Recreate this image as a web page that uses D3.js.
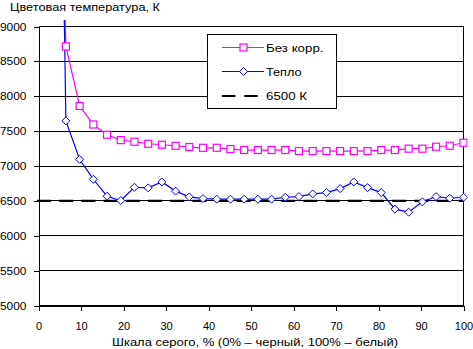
<!DOCTYPE html>
<html><head><meta charset="utf-8">
<script src="https://cdnjs.cloudflare.com/ajax/libs/d3/7.8.5/d3.min.js"></script>
<style>body{margin:0;background:#fff}svg{display:block}text{font-family:"Liberation Sans",Arial,sans-serif;font-size:11px;fill:#000}</style>
</head><body><svg id="c" width="473" height="349"></svg>
<script>
const grayLevels = [3.23, 6.45, 9.68, 12.9, 16.13, 19.35, 22.58, 25.81, 29.03, 32.26, 35.48, 38.71, 41.94, 45.16, 48.39, 51.61, 54.84, 58.06, 61.29, 64.52, 67.74, 70.97, 74.19, 77.42, 80.65, 83.87, 87.1, 90.32, 93.55, 96.77, 100];
const noCorr = [16000, 8714, 7861, 7595, 7448, 7371, 7348, 7319, 7305, 7290, 7272, 7261, 7261, 7243, 7229, 7229, 7229, 7229, 7214, 7214, 7214, 7214, 7214, 7214, 7229, 7229, 7248, 7248, 7276, 7290, 7333];
const warm = [20000, 7647, 7095, 6810, 6567, 6505, 6695, 6686, 6771, 6640, 6557, 6533, 6524, 6524, 6524, 6524, 6524, 6552, 6562, 6600, 6619, 6676, 6771, 6690, 6619, 6381, 6338, 6486, 6562, 6538, 6552];
const refTemp = 6500;
const xTicks = [0, 10, 20, 30, 40, 50, 60, 70, 80, 90, 100];
const yTicks = [5000, 5500, 6000, 6500, 7000, 7500, 8000, 8500, 9000];
const seriesNames = ["Без корр.", "Тепло", "6500 К"];
const yTitle = "Цветовая температура, К";
const xTitle = "Шкала серого, % (0% – черный, 100% – белый)";

const svg = d3.select("#c");
const x = d3.scaleLinear().domain([0, 100]).range([38.5, 463.5]);
const y = d3.scaleLinear().domain([5000, 9000]).range([305.5, 26.5]);

// gridlines
svg.append("g").selectAll("line").data(yTicks).join("line")
  .attr("x1", x(0)).attr("x2", x(100)).attr("y1", d => y(d)).attr("y2", d => y(d))
  .attr("stroke", "#000").attr("stroke-width", 1).attr("shape-rendering", "crispEdges");
// right border
svg.append("line").attr("x1", x(100)).attr("x2", x(100)).attr("y1", y(9000)).attr("y2", y(5000))
  .attr("stroke", "#000").attr("shape-rendering", "crispEdges");

// axes
const yAxis = d3.axisLeft(y).tickValues(yTicks).tickSize(5).tickPadding(7).tickFormat(d3.format("d"));
const gy = svg.append("g").attr("transform", `translate(${x(0)},0)`).call(yAxis);
const xAxis = d3.axisBottom(x).tickValues(xTicks).tickSize(5).tickPadding(11.5).tickFormat(d3.format("d"));
const gx = svg.append("g").attr("transform", `translate(0,${y(5000)})`).call(xAxis);
[gx, gy].forEach(g => {
  g.select(".domain").attr("stroke", "#000").attr("shape-rendering", "crispEdges");
  g.selectAll(".tick line").attr("stroke", "#000").attr("shape-rendering", "crispEdges");
  g.selectAll("text").attr("font-family", "Liberation Sans, Arial, sans-serif").attr("font-size", 11).attr("fill", "#000");
});
gy.selectAll("text").attr("textLength", 26.5).attr("lengthAdjust", "spacingAndGlyphs");
gy.select(".domain").attr("d", `M0.5,${y(9000)}V${y(5000)}`);

// clip
svg.append("clipPath").attr("id", "pc").append("rect")
  .attr("x", x(0) - 2).attr("y", 20).attr("width", x(100) - x(0) + 6).attr("height", y(5000) - 20);
const plot = svg.append("g").attr("clip-path", "url(#pc)");

// 6500 dashed
plot.append("line").attr("x1", x(0) - 1.5).attr("x2", x(100)).attr("y1", y(refTemp)).attr("y2", y(refTemp))
  .attr("stroke", "#000").attr("stroke-width", 2.2).attr("stroke-dasharray", "14,8.2");

const line = d3.line().x((d, i) => x(grayLevels[i])).y(d => y(d));
plot.append("path").datum(noCorr).attr("d", line).attr("fill", "none").attr("stroke", "#ff00ff").attr("stroke-width", 1.2);
plot.append("path").datum(warm).attr("d", line).attr("fill", "none").attr("stroke", "#0000ff").attr("stroke-width", 1.2);

plot.append("g").selectAll("rect").data(noCorr).join("rect")
  .attr("x", (d, i) => x(grayLevels[i]) - 3.5).attr("y", d => y(d) - 3.5).attr("width", 7).attr("height", 7)
  .attr("fill", "#fff").attr("stroke", "#ff00ff").attr("stroke-width", 1.2);
const diamond = "M0,-4L4,0L0,4L-4,0Z";
plot.append("g").selectAll("path").data(warm).join("path")
  .attr("transform", (d, i) => `translate(${x(grayLevels[i])},${y(d)})`).attr("d", diamond)
  .attr("fill", "#fff").attr("stroke", "#0000ff").attr("stroke-width", 1);

// titles
svg.append("text").attr("x", 10).attr("y", 11).attr("textLength", 150).attr("lengthAdjust", "spacingAndGlyphs").text(yTitle);
svg.append("text").attr("x", 112).attr("y", 346).attr("textLength", 286).attr("lengthAdjust", "spacingAndGlyphs").text(xTitle);

// legend
const lg = svg.append("g");
lg.append("rect").attr("x", 207.5).attr("y", 34.5).attr("width", 129).attr("height", 74)
  .attr("fill", "#fff").attr("stroke", "#000").attr("shape-rendering", "crispEdges");
const rows = [47.5, 71.5, 96];
const legendWidths = [57.5, 35.5, 41];
lg.append("line").attr("x1", 222).attr("x2", 264).attr("y1", rows[0]).attr("y2", rows[0]).attr("stroke", "#ff00ff").attr("stroke-width", 1.2);
lg.append("rect").attr("x", 243.5 - 3.5).attr("y", rows[0] - 3.5).attr("width", 7).attr("height", 7).attr("fill", "#fff").attr("stroke", "#ff00ff").attr("stroke-width", 1.2);
lg.append("line").attr("x1", 222).attr("x2", 264).attr("y1", rows[1]).attr("y2", rows[1]).attr("stroke", "#0000ff").attr("stroke-width", 1.2);
lg.append("path").attr("transform", `translate(243.5,${rows[1]})`).attr("d", diamond).attr("fill", "#fff").attr("stroke", "#0000ff");
lg.append("line").attr("x1", 222).attr("x2", 258).attr("y1", rows[2]).attr("y2", rows[2]).attr("stroke", "#000").attr("stroke-width", 2.2).attr("stroke-dasharray", "13.5,8.7");
seriesNames.forEach((n, i) => lg.append("text").attr("x", 266).attr("y", rows[i] + 4)
  .attr("textLength", legendWidths[i]).attr("lengthAdjust", "spacingAndGlyphs").text(n));
</script></body></html>
